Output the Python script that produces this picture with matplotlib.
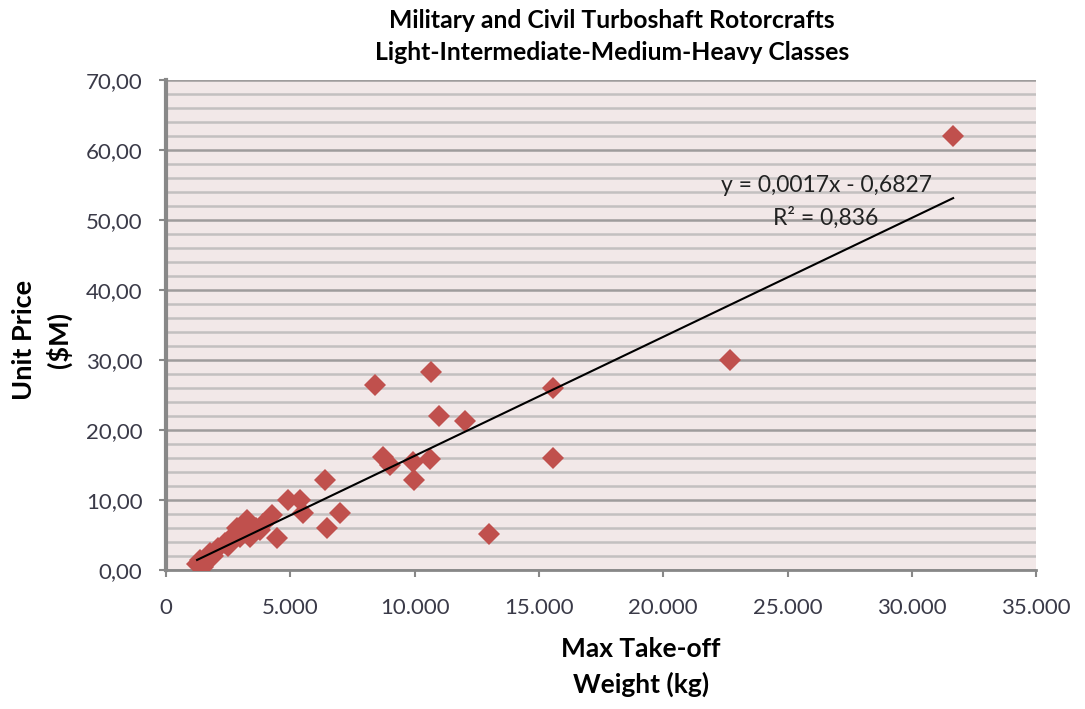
import matplotlib
matplotlib.use("Agg")
import matplotlib.pyplot as plt
from matplotlib.ticker import FuncFormatter, MultipleLocator
import numpy as np

plt.rcParams['font.family'] = ['Lato', 'DejaVu Sans']

# Max take-off weight (kg) and unit price ($M) per rotorcraft
mtow_kg = [31660, 22690, 15570, 15570, 10660, 8410, 10980, 12030, 8730, 9010,
           9940, 10620, 9980, 12990, 6400, 7000, 6480, 4910, 5390, 5510,
           4470, 4260, 3780, 3260, 3100, 2860, 3380, 2650, 2370, 2090,
           1770, 1370, 1250, 1490, 1890, 2490, 3620, 3900, 2980]
price_musd = [62.0, 30.0, 26.0, 16.0, 28.3, 26.4, 22.0, 21.3, 16.1, 15.0,
              15.4, 15.9, 12.9, 5.1, 12.9, 8.1, 6.0, 10.0, 10.0, 8.1,
              4.6, 7.9, 5.7, 7.1, 6.3, 6.0, 4.7, 4.7, 3.9, 3.1,
              2.4, 1.4, 0.9, 0.4, 2.0, 3.4, 6.0, 6.6, 4.7]

# Linear trendline coefficients
slope = 0.0017
intercept = -0.6827
r_squared = 0.836

title_lines = ["Military and Civil Turboshaft Rotorcrafts",
               "Light-Intermediate-Medium-Heavy Classes"]
x_label = "Max Take-off\nWeight (kg)"
y_label = "Unit Price\n($M)"

fig = plt.figure(figsize=(10.85, 7.09), dpi=100)
ax = fig.add_axes([0.153, 0.196, 0.802, 0.691])
ax.set_facecolor('#f2e8e8')

ax.set_xlim(0, 35000)
ax.set_ylim(0, 70)

ax.xaxis.set_major_locator(MultipleLocator(5000))
ax.yaxis.set_major_locator(MultipleLocator(10))
ax.yaxis.set_minor_locator(MultipleLocator(2))

ax.xaxis.set_major_formatter(FuncFormatter(lambda v, p: f"{int(v):,}".replace(",", ".")))
ax.yaxis.set_major_formatter(FuncFormatter(lambda v, p: f"{v:.2f}".replace(".", ",")))

ax.grid(which='minor', axis='y', color='#c3c0c0', linewidth=1.8, zorder=0)
ax.grid(which='major', axis='y', color='#9f9c9c', linewidth=1.8, zorder=0)
ax.set_axisbelow(True)

for s in ['right', 'top']:
    ax.spines[s].set_visible(False)
ax.spines['left'].set_color('#888888')
ax.spines['left'].set_linewidth(3)
ax.spines['bottom'].set_color('#888888')
ax.spines['bottom'].set_linewidth(2)

ax.tick_params(axis='both', which='major', direction='out', length=5, width=1.5,
               color='#888888', labelsize=16, labelcolor='#3a3a48')
ax.tick_params(axis='y', which='minor', length=0)
ax.tick_params(axis='x', pad=15)
ax.tick_params(axis='y', pad=12)

ax.plot(mtow_kg, price_musd, linestyle='none', marker='D', markersize=11.5,
        color='#c0504d', markeredgewidth=0, zorder=3)

xs = np.array([min(mtow_kg), max(mtow_kg)])
ax.plot(xs, slope * xs + intercept, color='black', linewidth=1.5, zorder=4)

eq = f"y = {slope:.4f}x - {abs(intercept):.4f}".replace(".", ",")
ax.text(26550, 54.9, eq, fontsize=16.5, color='#222222', ha='center', va='center', zorder=5)
ax.text(26550, 50.3, f"R² = {r_squared:.3f}".replace(".", ","), fontsize=16.5,
        color='#222222', ha='center', va='center', zorder=5)

fig.text(641 / 1085, 1 - 667 / 709, x_label, ha='center', va='center',
         fontsize=19, fontweight='bold', linespacing=1.55)
fig.text(42 / 1085, 1 - 340 / 709, y_label, ha='center', va='center', rotation=90,
         fontsize=19.5, fontweight='bold', linespacing=1.45)

fig.text(612 / 1085, 1 - 36.5 / 709, "\n".join(title_lines), ha='center', va='center',
         fontsize=17.8, fontweight='bold', linespacing=1.5)

fig.savefig("out.png", dpi=100)
